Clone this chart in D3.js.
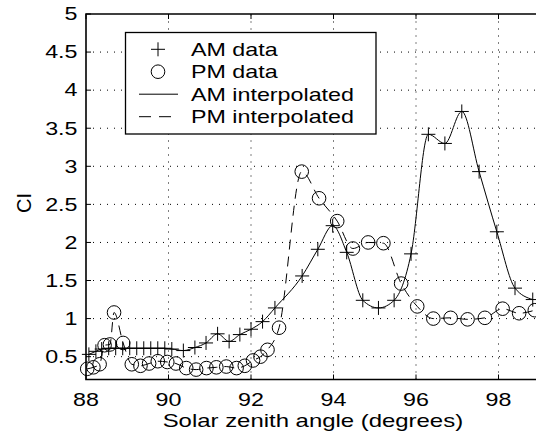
<!DOCTYPE html>
<html><head><meta charset="utf-8">
<script src="https://cdn.jsdelivr.net/npm/d3@7"></script>
<style>body{margin:0;background:#fff}svg{display:block}text{font-family:"Liberation Sans",Arial,sans-serif;fill:#000}</style>
</head><body><svg id="c" width="536" height="437"></svg>
<script>
const xTicks = [88, 90, 92, 94, 96, 98];
const yTicks = [0.5, 1, 1.5, 2, 2.5, 3, 3.5, 4, 4.5, 5];
const yTickLabels = ["0.5","1","1.5","2","2.5","3","3.5","4","4.5","5"];
const amAngle = [88.07,88.24,88.38,88.55,88.72,88.89,89.06,89.23,89.40,89.57,89.74,89.91,90.08,90.36,90.64,90.91,91.19,91.47,91.73,92.00,92.28,92.58,93.24,93.62,93.98,94.32,94.71,95.09,95.47,95.88,96.30,96.70,97.11,97.53,97.96,98.40,98.83];
const amCI    = [0.53,0.57,0.60,0.61,0.61,0.61,0.61,0.61,0.61,0.61,0.61,0.61,0.60,0.58,0.62,0.68,0.80,0.70,0.79,0.86,0.96,1.14,1.56,1.91,2.22,1.87,1.24,1.14,1.24,1.85,3.42,3.30,3.72,2.93,2.14,1.40,1.25];
const pmAngle = [88.03,88.18,88.33,88.45,88.58,88.68,88.90,89.11,89.32,89.53,89.74,89.97,90.18,90.43,90.67,90.92,91.16,91.40,91.65,91.85,92.05,92.23,92.40,92.68,93.23,93.65,94.09,94.47,94.84,95.21,95.64,96.03,96.42,96.84,97.25,97.67,98.10,98.50,98.88];
const pmCI    = [0.34,0.36,0.40,0.65,0.66,1.08,0.68,0.40,0.38,0.41,0.44,0.43,0.41,0.35,0.33,0.35,0.36,0.37,0.35,0.38,0.45,0.50,0.59,0.88,2.93,2.58,2.28,1.92,2.00,1.99,1.46,1.16,1.00,1.01,0.99,1.01,1.13,1.07,1.11];
const legendLabels = ["AM data","PM data","AM interpolated","PM interpolated"];
const xLabel = "Solar zenith angle (degrees)";
const yLabel = "CI";

const svg = d3.select("#c");
const L = 86, R = 539.75, T = 14, B = 379.5;
const x = d3.scaleLinear().domain([88, 99]).range([L, R]);
const y = d3.scaleLinear().domain([0.2, 5]).range([B, T]);
const SX = 1.33, FS = 17.5;

function txt(g, s, px, py, anchor, fs, sx) {
  return g.append("text").attr("transform", `translate(${px},${py}) scale(${sx||SX},1)`)
    .attr("text-anchor", anchor).attr("font-size", fs || FS).text(s);
}

// grid
const grid = svg.append("g").attr("stroke", "#000").attr("stroke-width", 1).attr("stroke-dasharray", "1 6");
grid.selectAll(".gx").data(xTicks.filter(d => d > 88)).enter().append("line")
  .attr("x1", d => x(d)).attr("x2", d => x(d)).attr("y1", B).attr("y2", T);
grid.selectAll(".gy").data(yTicks.filter(d => d < 5)).enter().append("line")
  .attr("y1", d => y(d)).attr("y2", d => y(d)).attr("x1", L).attr("x2", R);

// ticks inside
const tk = svg.append("g").attr("stroke", "#000").attr("stroke-width", 1);
xTicks.forEach(d => {
  tk.append("line").attr("x1", x(d)).attr("x2", x(d)).attr("y1", B).attr("y2", B - 5);
  tk.append("line").attr("x1", x(d)).attr("x2", x(d)).attr("y1", T).attr("y2", T + 5);
});
yTicks.forEach(d => {
  tk.append("line").attr("x1", L).attr("x2", L + 5).attr("y1", y(d)).attr("y2", y(d));
});

// lines
const line = d3.line().x(d => x(d[0])).y(d => y(d[1])).curve(d3.curveMonotoneX);
svg.append("path").datum(amAngle.map((a, i) => [a, amCI[i]]))
  .attr("d", line).attr("fill", "none").attr("stroke", "#000").attr("stroke-width", 1);
svg.append("path").datum(pmAngle.map((a, i) => [a, pmCI[i]]))
  .attr("d", line).attr("fill", "none").attr("stroke", "#000").attr("stroke-width", 1)
  .attr("stroke-dasharray", "10 7");

// markers
const plusPath = s => `M${-s},0H${s}M0,${-s}V${s}`;
svg.append("g").selectAll("path").data(amAngle.map((a, i) => [a, amCI[i]])).enter().append("path")
  .attr("transform", d => `translate(${x(d[0])},${y(d[1])})`).attr("d", plusPath(7))
  .attr("stroke", "#000").attr("stroke-width", 1).attr("fill", "none");
svg.append("g").selectAll("circle").data(pmAngle.map((a, i) => [a, pmCI[i]])).enter().append("circle")
  .attr("cx", d => x(d[0])).attr("cy", d => y(d[1])).attr("r", 6.8)
  .attr("stroke", "#000").attr("stroke-width", 1).attr("fill", "none");

// axes box
svg.append("path").attr("d", `M${L},${T}H${R}V${B}H${L}Z`).attr("fill", "none")
  .attr("stroke", "#000").attr("stroke-width", 1.6);

// tick labels
const tl = svg.append("g");
xTicks.forEach(d => txt(tl, String(d), x(d), 406, "middle"));
yTicks.forEach((d, i) => txt(tl, yTickLabels[i], 77.5, y(d) + 6.3, "end"));
txt(svg, xLabel, (L + R) / 2, 426.5, "middle", 18, 1.33);
svg.append("text").attr("transform", `translate(31,203) rotate(-90)`).attr("text-anchor", "middle")
  .attr("font-size", 20).text(yLabel);

// legend
const lg = svg.append("g");
lg.append("rect").attr("x", 125.5).attr("y", 32.5).attr("width", 250.5).attr("height", 101.5)
  .attr("fill", "#fff").attr("stroke", "#000").attr("stroke-width", 1.3);
const rows = [49.3, 71.7, 94.2, 116.7];
lg.append("path").attr("transform", `translate(158,${rows[0]})`).attr("d", plusPath(7))
  .attr("stroke", "#000").attr("fill", "none");
lg.append("circle").attr("cx", 158).attr("cy", rows[1]).attr("r", 6.8).attr("stroke", "#000").attr("fill", "none");
lg.append("line").attr("x1", 139).attr("x2", 178).attr("y1", rows[2]).attr("y2", rows[2]).attr("stroke", "#000");
lg.append("line").attr("x1", 139).attr("x2", 178).attr("y1", rows[3]).attr("y2", rows[3]).attr("stroke", "#000")
  .attr("stroke-dasharray", "12 8");
legendLabels.forEach((s, i) => txt(lg, s, 191, rows[i] + 6.3, "start"));
</script></body></html>
